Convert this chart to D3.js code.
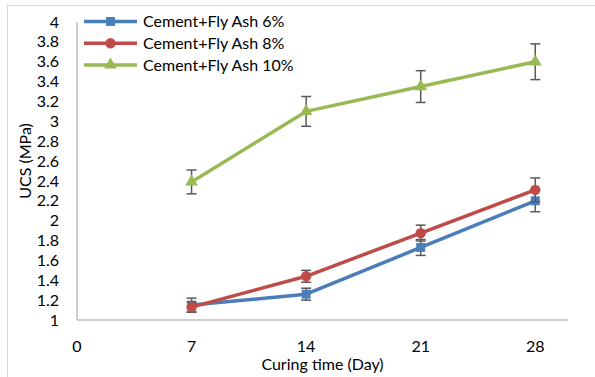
<!DOCTYPE html>
<html>
<head>
<meta charset="utf-8">
<script src="https://cdn.jsdelivr.net/npm/d3@7"></script>
<style>
  html, body { margin: 0; padding: 0; background: #fff; }
  svg { display: block; }
  text { font-family: Lato, "Liberation Sans", sans-serif; fill: #000; }
</style>
</head>
<body>
<svg id="chart" width="595" height="377"></svg>
<script>
// Curing days
const days = [7, 14, 21, 28];

// UCS means (MPa)
const fa6 = [1.15, 1.26, 1.73, 2.20];
const fa8 = [1.13, 1.44, 1.875, 2.31];
const fa10 = [2.39, 3.10, 3.35, 3.60];

// Error half-widths (MPa)
const fa6Err = [0.07, 0.06, 0.08, 0.11];
const fa8Err = [0.05, 0.06, 0.08, 0.12];
const fa10Err = [0.12, 0.15, 0.16, 0.18];

const seriesNames = ["Cement+Fly Ash 6%", "Cement+Fly Ash 8%", "Cement+Fly Ash 10%"];
const xTicks = [0, 7, 14, 21, 28];
const yTicks = [1, 1.2, 1.4, 1.6, 1.8, 2, 2.2, 2.4, 2.6, 2.8, 3, 3.2, 3.4, 3.6, 3.8, 4];

const svg = d3.select("#chart");
const W = 595, H = 377;
const fontSize = 16;

// Frame
svg.append("rect").attr("x", 7.5).attr("y", 5.5).attr("width", W).attr("height", H)
  .attr("fill", "#fff").attr("stroke", "#d9d9d9").attr("stroke-width", 1);

const plotLeft = 77, plotRight = 568, plotTop = 22, plotBottom = 320;
const x = d3.scaleLinear().domain([0, 30]).range([plotLeft, plotRight]);
const y = d3.scaleLinear().domain([1, 4]).range([plotBottom, plotTop]);

// Axes
const axisColor = "#bfbfbf";
svg.append("line").attr("x1", plotLeft).attr("x2", plotRight).attr("y1", plotBottom).attr("y2", plotBottom)
  .attr("stroke", axisColor).attr("stroke-width", 1.5);
svg.append("line").attr("x1", plotLeft).attr("x2", plotLeft).attr("y1", plotTop).attr("y2", plotBottom)
  .attr("stroke", axisColor).attr("stroke-width", 1.5);

svg.append("g").selectAll("text").data(yTicks).join("text")
  .attr("x", 59).attr("y", d => y(d)).attr("dy", "0.35em")
  .attr("text-anchor", "end").attr("font-size", fontSize)
  .text(d => d3.format("~g")(d));

svg.append("g").selectAll("text").data(xTicks).join("text")
  .attr("x", d => x(d)).attr("y", 352)
  .attr("text-anchor", "middle").attr("font-size", fontSize)
  .text(d => d);

svg.append("text").attr("x", (plotLeft + plotRight) / 2).attr("y", 370)
  .attr("text-anchor", "middle").attr("font-size", fontSize)
  .text("Curing time (Day)");

svg.append("text").attr("transform", "translate(30.5,161) rotate(-90)")
  .attr("text-anchor", "middle").attr("font-size", fontSize)
  .text("UCS (MPa)");

const series = [
  { name: seriesNames[0], values: fa6, err: fa6Err, color: "#4a7ebb", marker: "square" },
  { name: seriesNames[1], values: fa8, err: fa8Err, color: "#be4b48", marker: "circle" },
  { name: seriesNames[2], values: fa10, err: fa10Err, color: "#98b954", marker: "triangle" }
];

const markerPath = {
  square: d3.symbol(d3.symbolSquare, 80)(),
  circle: d3.symbol(d3.symbolCircle, 85)(),
  triangle: d3.symbol(d3.symbolTriangle, 70)()
};

const line = d3.line().x(d => x(d[0])).y(d => y(d[1]));

series.forEach(s => {
  const pts = days.map((d, i) => [d, s.values[i], s.err[i]]);
  const g = svg.append("g");
  // Error bars
  const eb = g.append("g").attr("stroke", "#595959").attr("stroke-width", 1.5);
  pts.forEach(p => {
    const cx = x(p[0]), y1 = y(p[1] - p[2]), y2 = y(p[1] + p[2]);
    eb.append("line").attr("x1", cx).attr("x2", cx).attr("y1", y1).attr("y2", y2);
    eb.append("line").attr("x1", cx - 5).attr("x2", cx + 5).attr("y1", y1).attr("y2", y1);
    eb.append("line").attr("x1", cx - 5).attr("x2", cx + 5).attr("y1", y2).attr("y2", y2);
  });
  g.append("path").datum(pts).attr("d", line)
    .attr("fill", "none").attr("stroke", s.color).attr("stroke-width", 3.5)
    .attr("stroke-linejoin", "round");
  g.selectAll(".m").data(pts).join("path")
    .attr("d", markerPath[s.marker])
    .attr("transform", p => `translate(${x(p[0])},${y(p[1])})`)
    .attr("fill", s.color);
});

// Legend
const leg = svg.append("g");
series.forEach((s, i) => {
  const ly = 21.5 + i * 21.7;
  leg.append("line").attr("x1", 84).attr("x2", 137).attr("y1", ly).attr("y2", ly)
    .attr("stroke", s.color).attr("stroke-width", 3.5);
  leg.append("path").attr("d", markerPath[s.marker])
    .attr("transform", `translate(110.5,${ly})`).attr("fill", s.color);
  leg.append("text").attr("x", 143).attr("y", ly).attr("dy", "0.35em")
    .attr("font-size", fontSize).text(s.name);
});
</script>
</body>
</html>
